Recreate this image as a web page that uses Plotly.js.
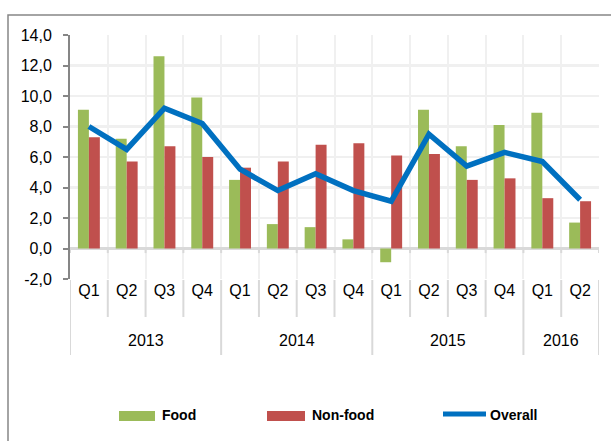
<!DOCTYPE html>
<html><head><meta charset="utf-8">
<script src="https://cdn.plot.ly/plotly-3.0.1.min.js"></script>
<style>html,body{margin:0;padding:0;background:#fff}#chart{width:611px;height:441px}</style>
</head><body><div id="chart"></div>
<script>
const years = ["2013","2013","2013","2013","2014","2014","2014","2014","2015","2015","2015","2015","2016","2016"];
const quarters = ["Q1","Q2","Q3","Q4","Q1","Q2","Q3","Q4","Q1","Q2","Q3","Q4","Q1","Q2"];
const food = [9.1,7.2,12.6,9.9,4.5,1.6,1.4,0.6,-0.9,9.1,6.7,8.1,8.9,1.7];
const nonFood = [7.3,5.7,6.7,6.0,5.3,5.7,6.8,6.9,6.1,6.2,4.5,4.6,3.3,3.1];
const overall = [8.0,6.5,9.2,8.2,5.2,3.8,4.9,3.8,3.1,7.5,5.4,6.3,5.7,3.2];
const yTickVals = [-2,0,2,4,6,8,10,12,14];
const yTickText = ["-2,0","0,0","2,0","4,0","6,0","8,0","10,0","12,0","14,0"];
const seriesNames = ["Food","Non-food","Overall"];
const colors = ["#9BBB59","#C0504D","#0070C0"];

const cats = years.map((y,i)=>y+" "+quarters[i]);
const font = "'Liberation Sans',Arial,sans-serif";

// plot area in pixels
const W=611, H=441, L=70, R=12, T=35, B=162;
const pw = W-L-R, ph = H-T-B;
const px = p => (p-L)/pw;           // pixel x -> paper x
const py = p => (H-B-p)/ph;         // pixel y -> paper y

const traces = [
  {type:'bar', name:seriesNames[0], x:cats, y:food, marker:{color:colors[0]}},
  {type:'bar', name:seriesNames[1], x:cats, y:nonFood, marker:{color:colors[1]}},
  {type:'scatter', mode:'lines', name:seriesNames[2], x:cats, y:overall, line:{color:colors[2], width:5.5}}
];

const shapes = [];
const annotations = [];
// category dividers below axis
for (let i=0;i<=cats.length;i++){
  const yearBoundary = (i===0 || i===cats.length || years[i]!==years[i-1]);
  shapes.push({type:'line', xref:'x', yref:'paper', x0:i-0.5, x1:i-0.5, y0:py(280), y1:py(yearBoundary?355:317),
               line:{color:'#D9D9D9', width:2}});
  shapes.push({type:'line', xref:'x', yref:'y', x0:i-0.5, x1:i-0.5, y0:0, y1:-0.3,
               line:{color:'#D9D9D9', width:2}});
}
// year labels
const uniqYears = [...new Set(years)];
uniqYears.forEach(yr=>{
  const idx = years.map((y,i)=>y===yr?i:-1).filter(i=>i>=0);
  const c = (idx[0]+idx[idx.length-1])/2;
  annotations.push({xref:'x', yref:'paper', x:c, y:py(340), text:yr, showarrow:false,
                    font:{size:16, color:'#000'}, xanchor:'center', yanchor:'middle'});
});
// legend (drawn)
const legX = [[119,155],[267,305],[443,486]];
const legTextX = [160,310,488];
seriesNames.forEach((n,k)=>{
  if (k<2) shapes.push({type:'rect', xref:'paper', yref:'paper', x0:px(legX[k][0]), x1:px(legX[k][1]),
                   y0:py(421), y1:py(411), fillcolor:colors[k], line:{width:0}});
  else shapes.push({type:'line', xref:'paper', yref:'paper', x0:px(legX[k][0]), x1:px(legX[k][1]),
                   y0:py(414), y1:py(414), line:{color:colors[k], width:5}});
  annotations.push({xref:'paper', yref:'paper', x:px(legTextX[k]), y:py(415), text:'<b>'+n+'</b>',
                    showarrow:false, xanchor:'left', yanchor:'middle', font:{size:14, color:'#000'}});
});
// outer frame
shapes.push({type:'rect', xref:'paper', yref:'paper', x0:px(8), x1:px(640), y0:py(470), y1:py(15),
             line:{color:'#868686', width:1.5}, fillcolor:'rgba(0,0,0,0)', layer:'below'});

const layout = {
  width:W, height:H,
  margin:{l:L, r:R, t:T, b:B, autoexpand:false},
  paper_bgcolor:'#fff', plot_bgcolor:'#fff',
  barmode:'group', bargap:0.42, bargroupgap:0,
  font:{family:font, size:16, color:'#000'},
  showlegend:false,
  xaxis:{type:'category', tickvals:cats, ticktext:quarters, tickson:'boundaries',
         showgrid:true, gridcolor:'#F0F0F0', gridwidth:2,
         ticks:'', showline:false, tickfont:{size:16}, range:[-0.5, cats.length-0.5]},
  yaxis:{range:[-2,14], tickmode:'array', tickvals:yTickVals, ticktext:yTickText,
         showgrid:true, gridcolor:'#F0F0F0', gridwidth:2.5,
         zeroline:true, zerolinecolor:'#D9D9D9', zerolinewidth:2.5,
         showline:true, linecolor:'#868686', linewidth:2, ticks:'outside', ticklen:5, tickcolor:'#868686', tickwidth:2,
         ticklabelstandoff:8, tickfont:{size:16}},
  shapes:shapes, annotations:annotations
};
Plotly.newPlot('chart', traces, layout, {displayModeBar:false, staticPlot:true});
</script></body></html>
